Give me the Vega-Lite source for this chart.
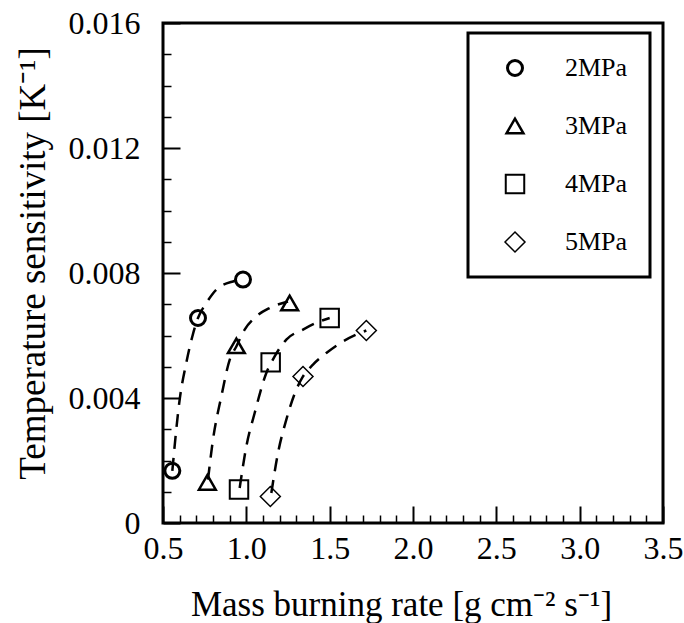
{
  "$schema": "https://vega.github.io/schema/vega-lite/v6.json",
  "width": 500,
  "height": 500,
  "autosize": "none",
  "padding": {"left": 163, "top": 23, "right": 21, "bottom": 100},
  "background": "white",
  "config": {
    "font": "Liberation Serif",
    "view": {"stroke": "black", "strokeWidth": 3},
    "legend": {"strokeWidth": 3},
    "axis": {"grid": false, "domain": false, "tickColor": "black", "labelColor": "black", "titleColor": "black", "labelFont": "Liberation Serif", "titleFont": "Liberation Serif", "titleFontWeight": "normal"}
  },
  "datasets": {
    "pts": [
      {"series": "2MPa", "x": 0.980, "y": 0.00779},
      {"series": "2MPa", "x": 0.710, "y": 0.00656},
      {"series": "2MPa", "x": 0.556, "y": 0.00167},
      {"series": "3MPa", "x": 1.260, "y": 0.00704},
      {"series": "3MPa", "x": 0.940, "y": 0.00567},
      {"series": "3MPa", "x": 0.766, "y": 0.00130},
      {"series": "4MPa", "x": 1.500, "y": 0.00656},
      {"series": "4MPa", "x": 1.146, "y": 0.00514},
      {"series": "4MPa", "x": 0.956, "y": 0.00107},
      {"series": "5MPa", "x": 1.720, "y": 0.00616},
      {"series": "5MPa", "x": 1.340, "y": 0.00469},
      {"series": "5MPa", "x": 1.144, "y": 0.00085}
    ],
    "curves": [
      {"series": "2MPa", "x": 0.556, "y": 0.00167},
      {"series": "2MPa", "x": 0.600, "y": 0.00395},
      {"series": "2MPa", "x": 0.640, "y": 0.00513},
      {"series": "2MPa", "x": 0.676, "y": 0.00597},
      {"series": "2MPa", "x": 0.710, "y": 0.00656},
      {"series": "2MPa", "x": 0.760, "y": 0.00704},
      {"series": "2MPa", "x": 0.820, "y": 0.00747},
      {"series": "2MPa", "x": 0.920, "y": 0.00773},
      {"series": "2MPa", "x": 0.980, "y": 0.00779},
      {"series": "3MPa", "x": 0.770, "y": 0.00139},
      {"series": "3MPa", "x": 0.800, "y": 0.00267},
      {"series": "3MPa", "x": 0.850, "y": 0.00405},
      {"series": "3MPa", "x": 0.900, "y": 0.00522},
      {"series": "3MPa", "x": 0.940, "y": 0.00565},
      {"series": "3MPa", "x": 0.990, "y": 0.00619},
      {"series": "3MPa", "x": 1.060, "y": 0.00661},
      {"series": "3MPa", "x": 1.140, "y": 0.00688},
      {"series": "3MPa", "x": 1.250, "y": 0.00709},
      {"series": "4MPa", "x": 0.960, "y": 0.00112},
      {"series": "4MPa", "x": 1.000, "y": 0.00245},
      {"series": "4MPa", "x": 1.050, "y": 0.00352},
      {"series": "4MPa", "x": 1.120, "y": 0.00480},
      {"series": "4MPa", "x": 1.170, "y": 0.00533},
      {"series": "4MPa", "x": 1.240, "y": 0.00587},
      {"series": "4MPa", "x": 1.340, "y": 0.00619},
      {"series": "4MPa", "x": 1.440, "y": 0.00645},
      {"series": "4MPa", "x": 1.500, "y": 0.00656},
      {"series": "5MPa", "x": 1.150, "y": 0.00096},
      {"series": "5MPa", "x": 1.190, "y": 0.00224},
      {"series": "5MPa", "x": 1.240, "y": 0.00331},
      {"series": "5MPa", "x": 1.300, "y": 0.00427},
      {"series": "5MPa", "x": 1.340, "y": 0.00469},
      {"series": "5MPa", "x": 1.400, "y": 0.00507},
      {"series": "5MPa", "x": 1.480, "y": 0.00544},
      {"series": "5MPa", "x": 1.580, "y": 0.00581},
      {"series": "5MPa", "x": 1.660, "y": 0.00603},
      {"series": "5MPa", "x": 1.720, "y": 0.00616}
    ]
  },
  "layer": [
    {
      "data": {"name": "curves"},
      "mark": {"type": "line", "interpolate": "monotone", "color": "black", "strokeWidth": 2.5, "strokeDash": [13, 9]},
      "encoding": {
        "x": {"field": "x", "type": "quantitative", "scale": {"domain": [0.5, 3.5], "nice": false, "zero": false},
          "axis": {"orient": "bottom", "values": [0.6,0.7,0.8,0.9,1.1,1.2,1.3,1.4,1.6,1.7,1.8,1.9,2.1,2.2,2.3,2.4,2.6,2.7,2.8,2.9,3.1,3.2,3.3,3.4], "labels": false, "title": null, "tickSize": -8, "tickWidth": 1.5}},
        "y": {"field": "y", "type": "quantitative", "scale": {"domain": [0, 0.016], "nice": false},
          "axis": {"orient": "left", "values": [0.001,0.002,0.003,0.005,0.006,0.007,0.009,0.010,0.011,0.013,0.014,0.015], "labels": false, "title": null, "tickSize": -8, "tickWidth": 1.5}},
        "detail": {"field": "series"}
      }
    },
    {
      "data": {"name": "pts"},
      "mark": {"type": "point", "filled": false, "color": "black", "opacity": 1},
      "encoding": {
        "x": {"field": "x", "type": "quantitative",
          "axis": {"orient": "bottom", "values": [0.5,1,1.5,2,2.5,3,3.5], "tickSize": -17, "tickWidth": 2, "labelFontSize": 32, "labelPadding": 27, "labelFlush": false, "title": "Mass burning rate [g cm⁻² s⁻¹]", "titleFontSize": 35, "titlePadding": 23, "titleX": 238, "titleColor": "black"}},
        "y": {"field": "y", "type": "quantitative",
          "axis": {"orient": "left", "values": [0, 0.004, 0.008, 0.012, 0.016], "format": "~g", "tickSize": -17, "tickWidth": 2, "labelFontSize": 32, "labelPadding": 40, "labelFlush": false, "title": "Temperature sensitivity [K⁻¹]", "titleFontSize": 37, "titlePadding": 16, "titleY": 240, "titleColor": "black"}},
        "shape": {"field": "series", "type": "nominal",
          "scale": {"domain": ["2MPa","3MPa","4MPa","5MPa"], "range": ["circle","triangle-up","square","diamond"]},
          "legend": {"title": null, "orient": "none", "legendX": 305, "legendY": 10, "strokeColor": "black", "fillColor": "white", "padding": 22, "rowPadding": 31, "labelFontSize": 26, "labelFont": "Liberation Serif", "labelColor": "black", "labelOffset": 37, "symbolStrokeColor": "black", "symbolFillColor": "transparent", "symbolOffset": 12,
            "encode": {"legend": {"update": {"stroke": {"value": "black"}, "strokeWidth": {"value": 3}}}}}},
        "size": {"field": "series", "type": "nominal", "scale": {"domain": ["2MPa","3MPa","4MPa","5MPa"], "range": [225, 400, 270, 330]}},
        "strokeWidth": {"field": "series", "type": "nominal", "scale": {"domain": ["2MPa","3MPa","4MPa","5MPa"], "range": [3, 1.5, 3, 1.5]}}
      }
    }
  ],
  "resolve": {"axis": {"x": "independent", "y": "independent"}}
}
